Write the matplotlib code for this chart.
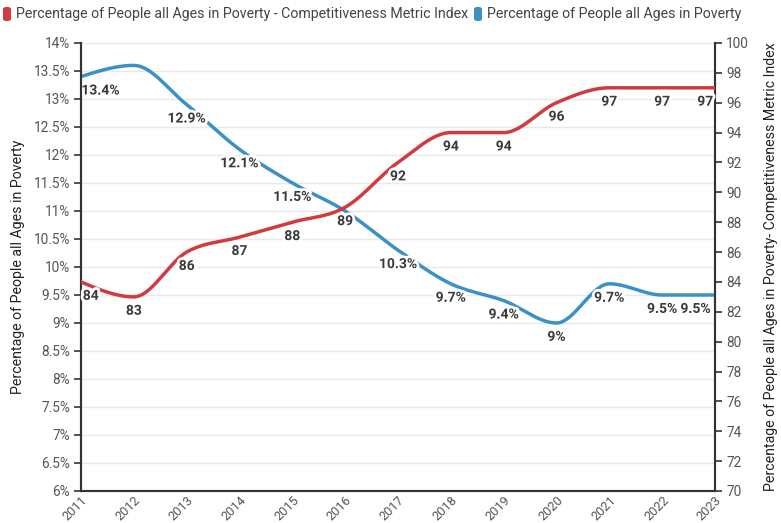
import matplotlib
matplotlib.use("Agg")
import matplotlib.pyplot as plt
import matplotlib.patheffects as pe
import numpy as np
from matplotlib.patches import FancyBboxPatch

plt.rcParams["font.family"] = ["Roboto", "DejaVu Sans"]

years = [2011, 2012, 2013, 2014, 2015, 2016, 2017, 2018, 2019, 2020, 2021, 2022, 2023]
poverty_pct = [13.4, 13.6, 12.9, 12.1, 11.5, 11.0, 10.3, 9.7, 9.4, 9.0, 9.7, 9.5, 9.5]
metric_index = [84, 83, 86, 87, 88, 89, 92, 94, 94, 96, 97, 97, 97]
# points whose value label is hidden in the source chart
poverty_hidden = [2012, 2016]

legend_labels = ["Percentage of People all Ages in Poverty - Competitiveness Metric Index",
                 "Percentage of People all Ages in Poverty"]

RED = "#d13b40"
BLUE = "#3b91c6"
TXT = "#3a3a3a"
TICK = "#555555"

W, H = 781, 523


def monotone(x, y, n=40):
    """Monotone cubic (Fritsch-Carlson) curve through the points."""
    x = np.asarray(x, float)
    y = np.asarray(y, float)
    h = np.diff(x)
    s = np.diff(y) / h
    m = np.zeros_like(y)
    for i in range(1, len(y) - 1):
        if s[i - 1] * s[i] <= 0:
            m[i] = 0
        else:
            m[i] = (s[i - 1] * h[i] + s[i] * h[i - 1]) / (h[i] + h[i - 1])
            m[i] = np.sign(m[i]) * min(abs(m[i]), 3 * abs(s[i - 1]), 3 * abs(s[i]))
    m[0] = (3 * s[0] - m[1]) / 2
    m[-1] = (3 * s[-1] - m[-2]) / 2
    xs, ys = [], []
    for i in range(len(h)):
        t = np.linspace(0, 1, n)
        h00 = 2 * t**3 - 3 * t**2 + 1
        h10 = t**3 - 2 * t**2 + t
        h01 = -2 * t**3 + 3 * t**2
        h11 = t**3 - t**2
        xs.append(x[i] + t * h[i])
        ys.append(h00 * y[i] + h10 * h[i] * m[i] + h01 * y[i + 1] + h11 * h[i] * m[i + 1])
    return np.concatenate(xs), np.concatenate(ys)


fig = plt.figure(figsize=(W / 100, H / 100), dpi=100)
ax = fig.add_axes([81 / W, 1 - 491 / H, 634 / W, 448 / H])
ax2 = ax.twinx()

ax.set_xlim(years[0], years[-1])
ax.set_ylim(6, 14)
ax2.set_ylim(70, 100)

left_ticks = np.arange(6, 14.01, 0.5)
ax.set_yticks(left_ticks)
ax.set_yticklabels([f"{v:g}%" for v in left_ticks])
ax2.set_yticks(np.arange(70, 101, 2))
ax.set_xticks(years)
ax.set_xticklabels([str(y) for y in years], rotation=45, ha="right",
                   va="top", rotation_mode="anchor")

ax.grid(axis="y", color="#e8e8e8", linewidth=1)
ax.set_axisbelow(True)
for a in (ax, ax2):
    a.spines["top"].set_visible(False)
    for sp in ("left", "right", "bottom"):
        a.spines[sp].set_color("#333333")
        a.spines[sp].set_linewidth(1.5)
    a.tick_params(colors="#333333", labelcolor=TICK, labelsize=9.8,
                  length=5, width=1.2, pad=3)
ax.tick_params(axis="x", length=0, pad=2, labelsize=9.2)

ax.set_ylabel("Percentage of People all Ages in Poverty", fontsize=10.2,
              color="#222222")
ax.yaxis.set_label_coords(-0.088, 0.5)
ax2.set_ylabel("Percentage of People all Ages in Poverty- Competitiveness Metric Index",
               fontsize=10.2, color="#222222", rotation=90)
ax2.yaxis.set_label_coords(1.077, 0.5)

halo = [pe.withStroke(linewidth=4, foreground="white")]

bx, by = monotone(years, poverty_pct)
ax.plot(bx, by, color=BLUE, linewidth=2.5, solid_capstyle="round", zorder=3)
rx, ry = monotone(years, metric_index)
ax2.plot(rx, ry, color=RED, linewidth=2.5, solid_capstyle="round", zorder=3)


def label_dx(yr, w):
    if yr == years[0]:
        return w
    if yr == years[-1]:
        return -w
    return 0


for yr, v in zip(years, poverty_pct):
    if yr in poverty_hidden:
        continue
    ax.annotate(f"{v:g}%", (yr, v), xytext=(label_dx(yr, 14), -10),
                textcoords="offset points", ha="center", va="center",
                fontsize=10, fontweight="bold", color=TXT,
                path_effects=halo, zorder=5, annotation_clip=False)

for yr, v in zip(years, metric_index):
    ax2.annotate(f"{v:g}", (yr, v), xytext=(label_dx(yr, 7), -10),
                 textcoords="offset points", ha="center", va="center",
                 fontsize=10, fontweight="bold", color=TXT,
                 path_effects=halo, zorder=5, annotation_clip=False)

# legend: rounded colour chips followed by the series names
for (x0, colour), text in zip([(3, RED), (474, BLUE)], legend_labels):
    chip = FancyBboxPatch((x0 / W, 1 - 21 / H), 8 / W, 14 / H,
                          boxstyle="round,pad=0,rounding_size=0.004",
                          transform=fig.transFigure, facecolor=colour,
                          edgecolor="none")
    fig.patches.append(chip)
    fig.text((x0 + 13) / W, 1 - 14 / H, text, fontsize=10.2, color="#444444",
             ha="left", va="center")

fig.savefig("out.png", dpi=100)
